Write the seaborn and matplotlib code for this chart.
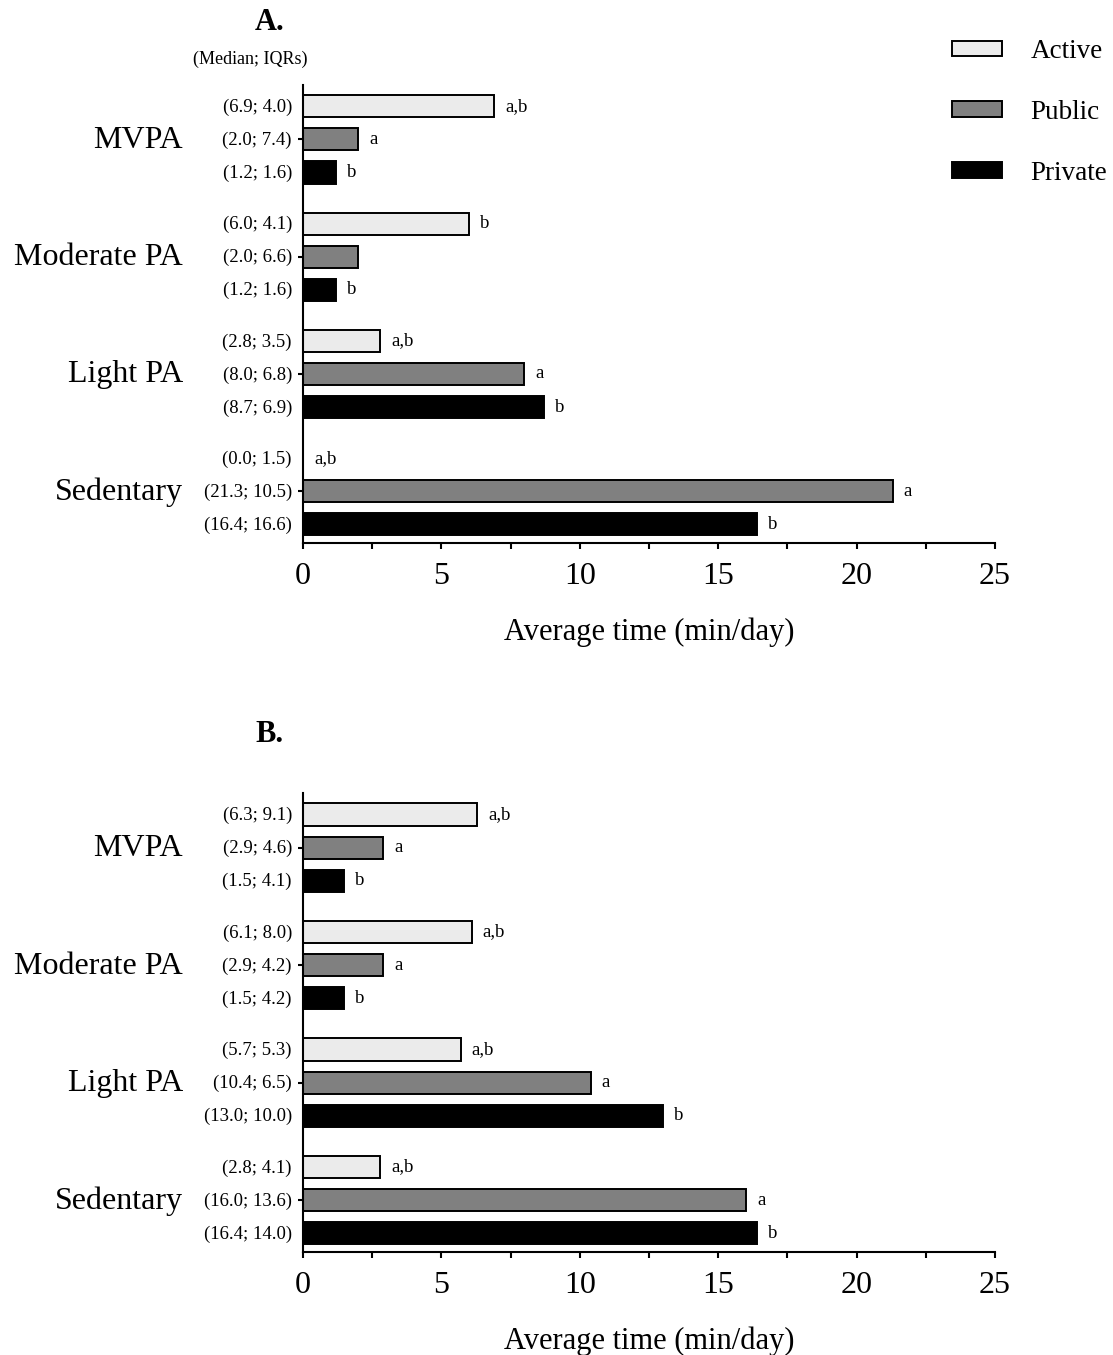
import numpy as np
import pandas as pd
import matplotlib
matplotlib.use('Agg')
import matplotlib.pyplot as plt
from matplotlib.ticker import MultipleLocator
import seaborn as sns

activities = ['MVPA', 'Moderate PA', 'Light PA', 'Sedentary']
groups = ['Active', 'Public', 'Private']
colors = ['#ebebeb', '#808080', '#000000']

# panel A: medians, IQRs and significance letters
a_active = [6.9, 6.0, 2.8, 0.0]
a_public = [2.0, 2.0, 8.0, 21.3]
a_private = [1.2, 1.2, 8.7, 16.4]
a_active_iqr = [4.0, 4.1, 3.5, 1.5]
a_public_iqr = [7.4, 6.6, 6.8, 10.5]
a_private_iqr = [1.6, 1.6, 6.9, 16.6]
a_active_sig = ['a,b', 'b', 'a,b', 'a,b']
a_public_sig = ['a', '', 'a', 'a']
a_private_sig = ['b', 'b', 'b', 'b']

# panel B
b_active = [6.3, 6.1, 5.7, 2.8]
b_public = [2.9, 2.9, 10.4, 16.0]
b_private = [1.5, 1.5, 13.0, 16.4]
b_active_iqr = [9.1, 8.0, 5.3, 4.1]
b_public_iqr = [4.6, 4.2, 6.5, 13.6]
b_private_iqr = [4.1, 4.2, 10.0, 14.0]
b_active_sig = ['a,b', 'a,b', 'a,b', 'a,b']
b_public_sig = ['a', 'a', 'a', 'a']
b_private_sig = ['b', 'b', 'b', 'b']

x_ticks = [0, 5, 10, 15, 20, 25]

sns.set_style('ticks')
plt.rcParams['font.family'] = ['Liberation Serif', 'DejaVu Serif']
plt.rcParams['text.color'] = 'black'
plt.rcParams['axes.labelcolor'] = 'black'
plt.rcParams['xtick.color'] = 'black'
plt.rcParams['ytick.color'] = 'black'

fig = plt.figure(figsize=(11.13, 13.55), dpi=100)
ax_a = fig.add_axes([0.2722, 0.5993, 0.6218, 0.3380])
ax_b = fig.add_axes([0.2722, 0.0760, 0.6218, 0.3387])


def make_df(act, pub, pri):
    rows = []
    for g, vals in zip(groups, [act, pub, pri]):
        for a, v in zip(activities, vals):
            rows.append({'activity': a, 'group': g, 'value': v})
    return pd.DataFrame(rows)


def draw_panel(ax, df, iqrs, sigs):
    sns.barplot(data=df, x='value', y='activity', hue='group', orient='h',
                order=activities, hue_order=groups, palette=colors,
                saturation=1, width=0.846, gap=0.33, edgecolor='black',
                linewidth=1.4, errorbar=None, ax=ax)
    if ax.get_legend() is not None:
        ax.get_legend().remove()
    for cont, iqr, sig in zip(ax.containers, iqrs, sigs):
        meds = cont.datavalues
        for patch, m, q, s in zip(cont.patches, meds, iqr, sig):
            yc = patch.get_y() + patch.get_height() / 2
            ax.annotate(f'({m:.1f}; {q:.1f})', xy=(0, yc),
                        xycoords=ax.get_yaxis_transform(),
                        xytext=(-11, -1), textcoords='offset pixels',
                        ha='right', va='center', fontsize=13.5)
            if s:
                ax.annotate(s, xy=(patch.get_width(), yc), xytext=(11, 0),
                            textcoords='offset pixels', ha='left',
                            va='center', fontsize=13.5)
    for i, a in enumerate(activities):
        ax.annotate(a, xy=(0, i), xycoords=ax.get_yaxis_transform(),
                    xytext=(-120, -1), textcoords='offset pixels',
                    ha='right', va='center', fontsize=23)
    ax.set_xlim(0, 25)
    ax.set_ylim(3.441, -0.464)
    ax.set_xticks(x_ticks)
    ax.set_xticklabels([str(t) for t in x_ticks], fontsize=23)
    ax.xaxis.set_minor_locator(MultipleLocator(2.5))
    ax.set_yticks(range(len(activities)))
    ax.set_yticklabels([''] * len(activities))
    ax.tick_params(axis='x', which='both', length=4.5, width=1.5,
                   direction='out', pad=9, colors='black')
    ax.tick_params(axis='y', length=3.6, width=1.5, colors='black')
    ax.set_xlabel('Average time (min/day)', fontsize=22, labelpad=19)
    ax.set_ylabel('')
    sns.despine(ax=ax)
    for sp in ['left', 'bottom']:
        ax.spines[sp].set_linewidth(1.5)
        ax.spines[sp].set_color('black')


draw_panel(ax_a, make_df(a_active, a_public, a_private),
           [a_active_iqr, a_public_iqr, a_private_iqr],
           [a_active_sig, a_public_sig, a_private_sig])
draw_panel(ax_b, make_df(b_active, b_public, b_private),
           [b_active_iqr, b_public_iqr, b_private_iqr],
           [b_active_sig, b_public_sig, b_private_sig])

fig.text(270 / 1113, 1 - 23 / 1355, 'A.', ha='center', va='center',
         fontsize=22, fontweight='bold')
fig.text(270 / 1113, 1 - 734 / 1355, 'B.', ha='center', va='center',
         fontsize=22, fontweight='bold')
fig.text(250 / 1113, 1 - 59 / 1355, '(Median; IQRs)', ha='center',
         va='center', fontsize=13)

handles = ax_a.containers
fig.legend(handles, groups, loc='upper left',
           bbox_to_anchor=(952 / 1113, 1 - 39 / 1355), frameon=False,
           borderaxespad=0, borderpad=0, fontsize=19.5, handlelength=1.85,
           handleheight=0.5, handletextpad=1.05, labelspacing=1.32)

fig.savefig('out.png', dpi=100)
